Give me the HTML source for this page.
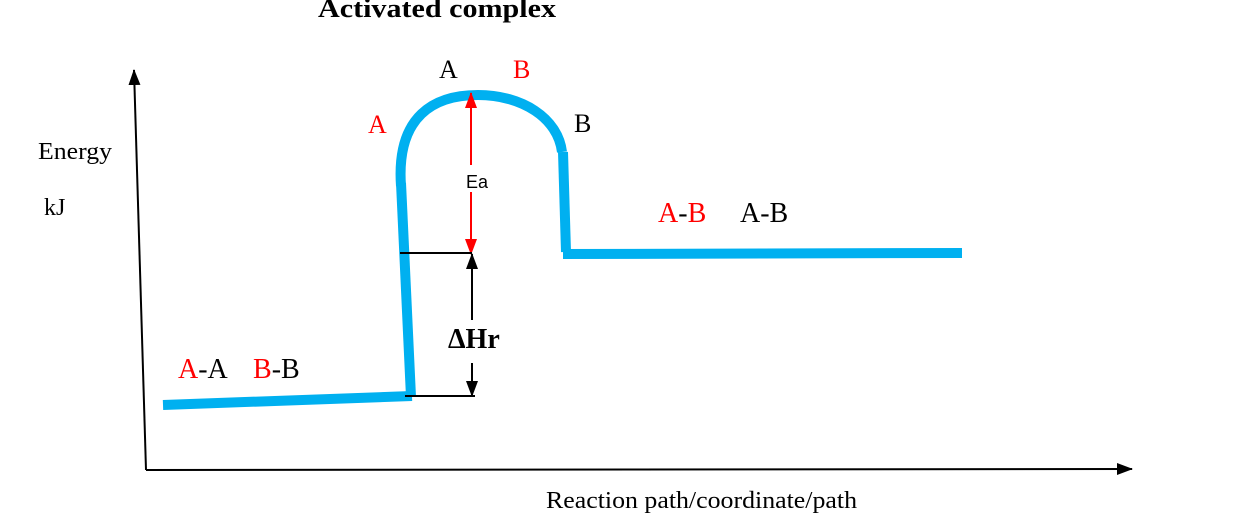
<!DOCTYPE html>
<html><head><style>
body{margin:0;background:#fff;}
svg{display:block}
text{font-family:"Liberation Serif",serif;}
</style></head><body>
<svg width="1242" height="526" viewBox="0 0 1242 526" xmlns="http://www.w3.org/2000/svg">
<defs>
<marker id="ak" markerWidth="16" markerHeight="14" refX="15" refY="7" orient="auto" markerUnits="userSpaceOnUse"><path d="M0,1 L16,7 L0,13 z" fill="#000"/></marker>
<marker id="ar" markerWidth="16" markerHeight="14" refX="15" refY="7" orient="auto" markerUnits="userSpaceOnUse"><path d="M0,1 L16,7 L0,13 z" fill="#f00"/></marker>
</defs>
<text x="318" y="17" font-size="26" font-weight="bold" textLength="238" lengthAdjust="spacingAndGlyphs">Activated complex</text>
<line x1="146" y1="470" x2="134" y2="70" stroke="#000" stroke-width="2" marker-end="url(#ak)"/>
<line x1="146" y1="470" x2="1132" y2="469" stroke="#000" stroke-width="2" marker-end="url(#ak)"/>
<text x="38" y="159" font-size="24" textLength="74" lengthAdjust="spacingAndGlyphs">Energy</text>
<text x="44" y="215" font-size="24">kJ</text>
<text x="546" y="508" font-size="24" textLength="311" lengthAdjust="spacingAndGlyphs">Reaction path/coordinate/path</text>
<g stroke="#00b0f0" stroke-width="10" fill="none">
<line x1="163" y1="405" x2="412" y2="396"/>
<line x1="411" y1="397" x2="401" y2="183"/>
<path d="M401,186 C396,115 435,95 478,95 C522,95 558,118 562,152"/>
<line x1="563" y1="152" x2="566" y2="252"/>
<line x1="563" y1="254" x2="962" y2="253"/>
</g>
<line x1="471" y1="165" x2="471" y2="93" stroke="#f00" stroke-width="2" marker-end="url(#ar)"/>
<line x1="471" y1="192" x2="471" y2="254" stroke="#f00" stroke-width="2" marker-end="url(#ar)"/>
<text x="466" y="188" font-size="18" style="font-family:'Liberation Sans',sans-serif">Ea</text>
<line x1="400" y1="253" x2="472" y2="253" stroke="#000" stroke-width="2"/>
<line x1="405" y1="396" x2="475" y2="396" stroke="#000" stroke-width="2"/>
<line x1="472" y1="320" x2="472" y2="254" stroke="#000" stroke-width="2" marker-end="url(#ak)"/>
<line x1="472" y1="363" x2="472" y2="396" stroke="#000" stroke-width="2" marker-end="url(#ak)"/>
<text x="448" y="348" font-size="28" font-weight="bold">ΔHr</text>
<text x="439" y="78" font-size="26">A</text>
<text x="513" y="78" font-size="26" fill="#f00">B</text>
<text x="368" y="133" font-size="26" fill="#f00">A</text>
<text x="574" y="132" font-size="26">B</text>
<text x="658" y="222" font-size="28"><tspan fill="#f00">A</tspan>-<tspan fill="#f00">B</tspan></text>
<text x="740" y="222" font-size="28">A-B</text>
<text x="178" y="378" font-size="28"><tspan fill="#f00">A</tspan>-A</text>
<text x="253" y="378" font-size="28"><tspan fill="#f00">B</tspan>-B</text>
</svg>
</body></html>
